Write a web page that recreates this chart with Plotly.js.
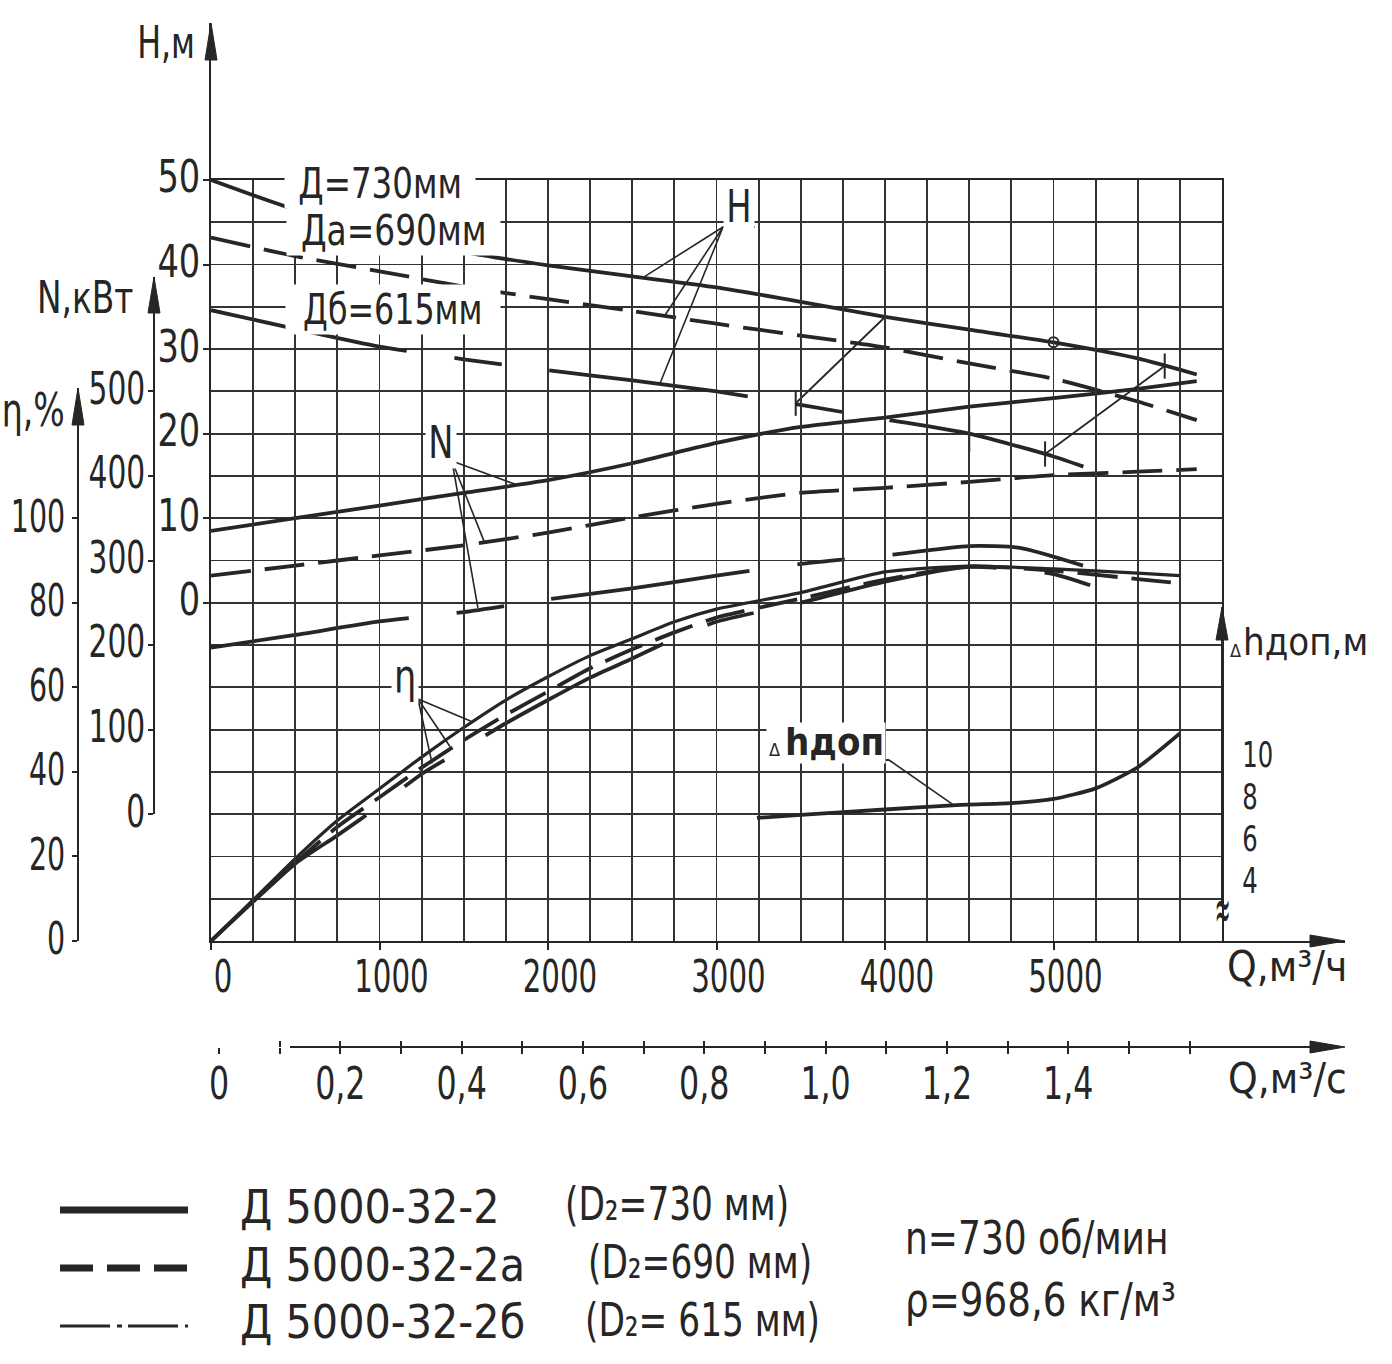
<!DOCTYPE html>
<html><head><meta charset="utf-8">
<script src="https://cdn.plot.ly/plotly-3.0.1.min.js"></script>
<style>html,body{margin:0;padding:0;background:#fff;}#chart{width:1392px;height:1364px;}</style>
</head><body><div id="chart"></div>
<script>
// ---------------- DATA ----------------
// Head H, m
const qH730 = [0, 500, 1000, 1500, 2000, 2500, 3000, 3500, 4000, 4500, 5000, 5500, 5850];
const h730  = [50, 46.5, 44.0, 41.5, 39.9, 38.6, 37.3, 35.6, 33.8, 32.3, 30.8, 28.9, 27.0];
const qH690 = [0, 500, 1000, 1500, 2000, 2500, 3000, 3500, 4000, 4500, 5000, 5500, 5850];
const h690  = [43.2, 41.0, 39.2, 37.4, 35.9, 34.5, 33.0, 31.6, 30.2, 28.3, 26.5, 23.8, 21.6];
const qH615 = [0, 500, 1000, 1500, 2000, 2500, 3000, 3500, 4000, 4500, 5000, 5335];
const h615  = [34.6, 32.4, 30.3, 28.8, 27.5, 26.3, 25.0, 23.4, 21.7, 20.0, 17.3, 15.0];
// Power N, kW
const qN730 = [0, 500, 1000, 1500, 2000, 2500, 3000, 3500, 4000, 4500, 5000, 5500, 5850];
const n730  = [335, 350, 365, 380, 395, 415, 439, 458, 469, 482, 492, 503, 512];
const qN690 = [0, 500, 1000, 1500, 2000, 2500, 3000, 3500, 4000, 4500, 5000, 5500, 5850];
const n690  = [282, 294, 306, 318, 333, 351, 367, 380, 386, 393, 401, 405, 408];
const qN615 = [0, 500, 1000, 1500, 2000, 2500, 3000, 3500, 4000, 4500, 4800, 5175];
const n615  = [197, 212, 228, 239, 254, 267, 282, 296, 306, 317, 315, 294];
// Efficiency, %
const qE730 = [0, 250, 500, 750, 1000, 1250, 1500, 1750, 2000, 2250, 2500, 2750, 3000, 3500, 4000, 4500, 5000, 5500, 5750];
const e730  = [0, 9.7, 19.5, 28.5, 36, 43.5, 50.5, 57, 62.5, 67.5, 71.5, 75.5, 78.5, 82.4, 87.3, 88.7, 88.0, 87.0, 86.4];
const qE690 = [0, 250, 500, 750, 1000, 1250, 1500, 1750, 2000, 2250, 2500, 2750, 3000, 3500, 4000, 4500, 5000, 5500, 5750];
const e690  = [0, 9.5, 18.5, 27, 34, 41, 47.5, 53.5, 59, 64.5, 69, 73, 76.5, 81, 85.5, 88.6, 87.6, 85.6, 84.6];
const qE615 = [0, 250, 500, 750, 1000, 1250, 1500, 1750, 2000, 2250, 2500, 2750, 3000, 3500, 4000, 4500, 5000, 5300];
const e615  = [0, 9.3, 18.3, 25, 32, 39.5, 45.5, 51.5, 57, 62.3, 66.8, 71.5, 75.5, 80, 85, 88.5, 86.8, 83];
// Permissible cavitation reserve, m
const qDh = [3240, 3500, 4000, 4400, 4750, 5000, 5250, 5500, 5750];
const dh  = [7.4, 7.55, 7.8, 8.0, 8.1, 8.3, 8.8, 9.8, 11.4];
// Working range marks
const ratedQ = [5000], ratedH = [30.8];
const range1Q = [3470, 4000], range1H = [23.6, 33.8];
const range2Q = [4950, 5660], range2H = [17.6, 28.0];
const limitQ = [4500], limitH = [20.0];
// Tick labels
const qTicks = [0, 1000, 2000, 3000, 4000, 5000];
const qTickText = ['0', '1000', '2000', '3000', '4000', '5000'];
const hTicks = [0, 10, 20, 30, 40, 50];
const nTicks = [0, 100, 200, 300, 400, 500];
const eTicks = [0, 20, 40, 60, 80, 100];
const dhTicks = [4, 6, 8, 10];
const qsMajor = [0, 0.2, 0.4, 0.6, 0.8, 1.0, 1.2, 1.4];
const qsMajorText = ['0', '0,2', '0,4', '0,6', '0,8', '1,0', '1,2', '1,4'];
const qsMinor = [0.1, 0.3, 0.5, 0.7, 0.9, 1.1, 1.3, 1.5, 1.6];

// ---------------- GEOMETRY ----------------
const W = 1392, HT = 1364;
const X0 = 211, X6000 = 1222, Y50 = 180, YM40 = 941;
const PXQ = (X6000 - X0) / 6000;
const PXH = (YM40 - Y50) / 90;
const qOf = p => (p - X0) / PXQ;
const hOf = p => 50 - (p - Y50) / PXH;
const fx = p => p / W;
const fy = p => 1 - p / HT;
const INK = '#262626';
const FONT = "'DejaVu Sans Condensed', 'Liberation Sans Narrow', sans-serif";
const DH0 = 43.95; // dh = (H + DH0) / 2.5

const qsPx = 219, PXQS = PXQ * 3600;
const xEnd = 1345;
const allQs = qsMajor.concat(qsMinor).sort((a, b) => a - b);

function line(x, y, dash, w, ax, ay) {
  return {type: 'scatter', mode: 'lines', x: x, y: y, xaxis: ax || 'x2', yaxis: ay || 'y2',
    line: {color: INK, width: w || 3.8, dash: dash || 'solid', shape: 'spline', smoothing: 0.6},
    hoverinfo: 'skip', showlegend: false};
}
const D690 = '40px,14px';
const D615 = '200px,48px,48px,48px';
const none = {type: 'scatter', mode: 'markers', x: [null], y: [null], hoverinfo: 'skip', showlegend: false};

const traces = [
  Object.assign({}, none, {xaxis: 'x', yaxis: 'y'}),
  Object.assign({}, none, {xaxis: 'x3', yaxis: 'y'}),
  Object.assign({}, none, {xaxis: 'x4', yaxis: 'y'}),
  Object.assign({}, none, {xaxis: 'x5', yaxis: 'y'}),
  line(qH730, h730, 'solid'),
  line(qH690, h690, D690),
  line(qH615, h615, D615),
  line(qN730, n730, 'solid', 3.8, 'x2', 'y3'),
  line(qN690, n690, D690, 3.8, 'x2', 'y3'),
  line(qN615, n615, D615, 3.8, 'x2', 'y3'),
  line(qE730, e730, 'solid', 3.2, 'x2', 'y4'),
  line(qE690, e690, D690, 3.8, 'x2', 'y4'),
  line(qE615, e615, D615, 3.8, 'x2', 'y4'),
  line(qDh, dh, 'solid', 3.8, 'x2', 'y5'),
  {type: 'scatter', mode: 'lines+markers', x: range1Q, y: range1H, xaxis: 'x2', yaxis: 'y2',
   line: {color: INK, width: 1.8}, marker: {symbol: 'line-ns', size: 18, line: {color: INK, width: 2}}, hoverinfo: 'skip', showlegend: false},
  {type: 'scatter', mode: 'lines+markers', x: range2Q, y: range2H, xaxis: 'x2', yaxis: 'y2',
   line: {color: INK, width: 1.8}, marker: {symbol: 'line-ns', size: 18, line: {color: INK, width: 2}}, hoverinfo: 'skip', showlegend: false},
  {type: 'scatter', mode: 'markers', x: limitQ, y: limitH, xaxis: 'x2', yaxis: 'y2',
   marker: {symbol: 'line-ns', size: 26, line: {color: INK, width: 2}}, hoverinfo: 'skip', showlegend: false},
  {type: 'scatter', mode: 'markers', x: ratedQ, y: ratedH, xaxis: 'x2', yaxis: 'y2',
   marker: {symbol: 'circle-open', size: 10, color: INK, line: {color: INK, width: 2}}, hoverinfo: 'skip', showlegend: false}
];

const tickFont = {family: FONT, size: 44, color: INK};
const axBase = {showgrid: false, zeroline: false, linecolor: INK, linewidth: 2, tickcolor: INK, tickwidth: 2, tickfont: tickFont, fixedrange: true};

const nTop = 277, eTop = 388, dhTop = 607, dhBot = 905, hTop = 23, qsY = 1047;
const qsRange = [0, (xEnd - qsPx) / PXQS];
const layout = {
  width: W, height: HT, margin: {l: 0, r: 0, t: 0, b: 0, pad: 0},
  paper_bgcolor: '#fff', plot_bgcolor: 'rgba(0,0,0,0)',
  font: {family: FONT, color: INK},
  showlegend: false,
  xaxis: Object.assign({}, axBase, {domain: [fx(X0), fx(xEnd)], range: [0, qOf(xEnd)], anchor: 'y',
    showline: true, tickmode: 'array', tickvals: qTicks, ticktext: qTickText, ticks: 'outside', ticklen: 7,
    ticklabelstandoff: -11, ticklabelshift: 12}),
  yaxis: Object.assign({}, axBase, {domain: [fy(YM40), fy(hTop)], range: [-40, hOf(hTop)], anchor: 'x',
    showline: true, tickmode: 'array', tickvals: hTicks, ticks: 'outside', ticklen: 6,
    ticklabelstandoff: -6, ticklabelshift: -3}),
  xaxis2: Object.assign({}, axBase, {domain: [fx(X0), fx(X6000)], range: [0, 6000], anchor: 'y2',
    showgrid: true, gridcolor: '#333', gridwidth: 1.8, dtick: 250, tick0: 0, showticklabels: false, ticks: '',
    showline: true, mirror: true, linewidth: 2}),
  yaxis2: Object.assign({}, axBase, {domain: [fy(YM40), fy(Y50)], range: [-40, 50], anchor: 'x2',
    showgrid: true, gridcolor: '#333', gridwidth: 1.8, dtick: 5, tick0: 0, showticklabels: false, ticks: '',
    showline: true, mirror: true, linewidth: 2}),
  yaxis3: Object.assign({}, axBase, {domain: [fy(YM40 - 15 * PXH), fy(nTop)], range: [0, 10 * (hOf(nTop) + 25)],
    anchor: 'free', position: fx(154), side: 'left', showline: true,
    tickmode: 'array', tickvals: nTicks, ticks: 'outside', ticklen: 5, ticklabelstandoff: -6, ticklabelshift: -3}),
  yaxis4: Object.assign({}, axBase, {domain: [fy(YM40), fy(eTop)], range: [0, 2 * (hOf(eTop) + 40)],
    anchor: 'free', position: fx(78), side: 'left', showline: true,
    tickmode: 'array', tickvals: eTicks, ticks: 'outside', ticklen: 5, ticklabelstandoff: -2, ticklabelshift: -2}),
  yaxis5: Object.assign({}, axBase, {domain: [fy(dhBot), fy(dhTop)], range: [(hOf(dhBot) + DH0) / 2.5, (hOf(dhTop) + DH0) / 2.5],
    anchor: 'free', position: fx(X6000), side: 'right', showline: true,
    tickfont: {family: FONT, size: 36, color: INK},
    tickmode: 'array', tickvals: dhTicks, ticks: '', ticklabelstandoff: 12, ticklabelshift: -9}),
  xaxis3: Object.assign({}, axBase, {domain: [fx(qsPx), fx(xEnd)], range: qsRange,
    anchor: 'free', position: fy(qsY), side: 'bottom', showline: false,
    tickmode: 'array', tickvals: qsMajor, ticktext: qsMajorText, ticks: 'outside', ticklen: 6, ticklabelstandoff: -8}),
  xaxis4: Object.assign({}, axBase, {domain: [fx(qsPx), fx(xEnd)], range: qsRange,
    anchor: 'free', position: fy(qsY), side: 'bottom', overlaying: 'x3', showline: false,
    tickmode: 'array', tickvals: allQs, ticks: 'inside', ticklen: 6, showticklabels: false}),
  xaxis5: Object.assign({}, axBase, {domain: [fx(qsPx), fx(xEnd)], range: qsRange,
    anchor: 'free', position: fy(qsY), side: 'bottom', overlaying: 'x3', showline: false,
    tickmode: 'array', tickvals: qsMinor, ticks: 'outside', ticklen: 6, showticklabels: false}),
  shapes: [],
  annotations: []
};

function arrowUp(x, tip, base, hw) {
  return {type: 'path', xref: 'paper', yref: 'paper', fillcolor: INK, line: {color: INK, width: 1},
    path: `M ${fx(x)} ${fy(tip)} L ${fx(x - hw)} ${fy(base)} L ${fx(x + hw)} ${fy(base)} Z`};
}
function arrowRight(y, tip, base, hw) {
  return {type: 'path', xref: 'paper', yref: 'paper', fillcolor: INK, line: {color: INK, width: 1},
    path: `M ${fx(tip)} ${fy(y)} L ${fx(base)} ${fy(y - hw)} L ${fx(base)} ${fy(y + hw)} Z`};
}
layout.shapes.push(arrowUp(X0, hTop, 60, 6), arrowUp(154, nTop, 313, 6), arrowUp(78, eTop, 425, 6),
  arrowUp(X6000, dhTop, 640, 6), arrowRight(YM40, xEnd, 1310, 6), arrowRight(qsY, xEnd, 1310, 6));
layout.shapes.push({type: 'line', xref: 'paper', yref: 'paper', x0: fx(290), x1: fx(1312), y0: fy(qsY), y1: fy(qsY), line: {color: INK, width: 2}});

function seg(q0, h0, q1, h1, w) {
  return {type: 'line', xref: 'x2', yref: 'y2', x0: q0, y0: h0, x1: q1, y1: h1, line: {color: INK, width: w || 1.6}};
}
const hLab = [qOf(723), hOf(227)];
layout.shapes.push(seg(hLab[0], hLab[1], qOf(755), hLab[1], 2),
  seg(hLab[0], hLab[1], 2575, 38.6), seg(hLab[0], hLab[1], 2694, 34.0), seg(hLab[0], hLab[1], 2664, 25.9));
const nLab = [qOf(452), hOf(461)];
layout.shapes.push(seg(qOf(430), nLab[1], nLab[0], nLab[1], 2),
  seg(nLab[0], nLab[1], 1822, 13.9), seg(nLab[0], nLab[1], 1626, 7.0), seg(nLab[0], nLab[1], 1584, -0.6));
const eLab = [qOf(418), hOf(699)];
layout.shapes.push(seg(qOf(393), eLab[1], eLab[0], eLab[1], 2),
  seg(eLab[0], eLab[1], 1543, -14.0), seg(eLab[0], eLab[1], 1418, -17.0), seg(eLab[0], eLab[1], 1312, -19.0));
const dLab = [qOf(889), hOf(760)];
layout.shapes.push(seg(qOf(769), dLab[1], dLab[0], dLab[1], 2), seg(dLab[0], dLab[1], 4410, 2.5 * 8.0 - DH0));

function legLine(y, dash, w) {
  return {type: 'line', xref: 'paper', yref: 'paper', x0: fx(60), x1: fx(188), y0: fy(y), y1: fy(y), line: {color: INK, width: w, dash: dash}};
}
layout.shapes.push(legLine(1210, 'solid', 7), legLine(1268, '33px,14px', 7), legLine(1326, '50px,7px,5px,6px', 3));

// text annotations; annScale = horizontal condensing of each (narrow drafting lettering)
const annScale = [];
function txt(x, y, t, size, s, extra) {
  annScale.push(s);
  const a = Object.assign({xref: 'paper', yref: 'paper', x: fx(x), y: fy(y), text: t, showarrow: false,
    xanchor: 'center', yanchor: 'middle', font: {family: FONT, size: size, color: INK}}, extra || {});
  if (extra && extra.weight) { a.font.weight = extra.weight; delete a.weight; }
  return a;
}
const bg = {bgcolor: '#fff', borderpad: 0};
const L = {xanchor: 'left', align: 'left'};
layout.annotations.push(
  txt(166, 43, 'H,м', 44, 0.8), txt(85, 297, 'N,кВт', 44, 0.83), txt(33, 410, 'η,%', 46, 0.8),
  txt(1235, 650, 'Δ', 18, 1), txt(1241, 642, 'hдоп,м', 38, 1, L),
  txt(1287, 966, 'Q,м³/ч', 42, 1), txt(1287, 1078, 'Q,м³/с', 42, 1),
  txt(380, 183, 'Д=730мм', 42, 0.86, bg), txt(393, 231, 'Да=690мм', 42, 0.87, bg), txt(393, 309, 'Дб=615мм', 42, 0.84, bg),
  txt(739, 207, 'H', 44, 0.85, bg), txt(441, 443, 'N', 44, 0.85, bg), txt(405, 676, 'η', 46, 0.85, bg),
  txt(826, 743, ' ', 38, 1, {bgcolor: '#fff', borderpad: 0, width: 118, height: 40}),
  txt(775, 750, 'Δ', 18, 1), txt(783, 742, 'hдоп', 38, 1, {xanchor: 'left', align: 'left', weight: 'bold'}),
  txt(1222, 909, '≈', 60, 0.35),
  txt(238, 1207, 'Д 5000-32-2', 46, 1, L),
  txt(563, 1204, '(D₂=730 мм)', 46, 0.83, L),
  txt(238, 1265, 'Д 5000-32-2а', 46, 1, L),
  txt(586, 1262, '(D₂=690 мм)', 46, 0.83, L),
  txt(238, 1322, 'Д 5000-32-2б', 46, 1, L),
  txt(583, 1320, '(D₂= 615 мм)', 46, 0.83, L),
  txt(903, 1238, 'n=730 об/мин', 46, 0.87, L),
  txt(903, 1300, 'ρ=968,6 кг/м³', 46, 0.9, L)
);
const annLeft = layout.annotations.map(a => a.xanchor === 'left');
const tickScale = {xtick: 0.74, x3tick: 0.8, ytick: 0.85, y3tick: 0.75, y4tick: 0.72, y5tick: 0.75};

Plotly.newPlot('chart', traces, layout, {staticPlot: true, displayModeBar: false}).then(gd => {
  try {
    const squeeze = (el, s, x) => {
      const t = el.getAttribute('transform') || '';
      el.setAttribute('transform', `${t} translate(${x},0) scale(${s},1) translate(${-x},0)`);
    };
    Object.keys(tickScale).forEach(cls => {
      gd.querySelectorAll(`g.${cls} text`).forEach(el => squeeze(el, tickScale[cls], parseFloat(el.getAttribute('x')) || 0));
    });
    gd.querySelectorAll('g.annotation').forEach(g => {
      const i = +g.getAttribute('data-index');
      const s = annScale[i];
      if (!s || s === 1) return;
      const tg = g.querySelector('text');
      if (!tg) return;
      const b = tg.getBBox();
      squeeze(tg, s, annLeft[i] ? b.x : b.x + b.width / 2);
    });
  } catch (e) { console.log(e); }
});
</script></body></html>
